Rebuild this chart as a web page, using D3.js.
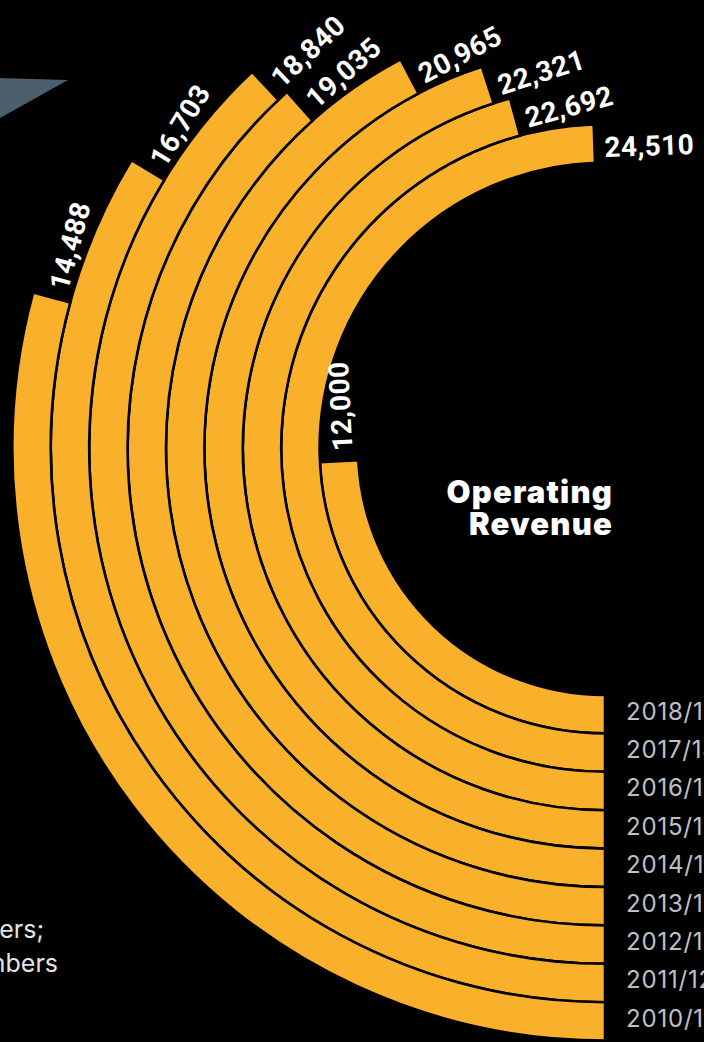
<!DOCTYPE html>
<html>
<head>
<meta charset="utf-8">
<script src="https://cdn.jsdelivr.net/npm/d3@7"></script>
<style>
  html, body { margin: 0; padding: 0; background: #000; overflow: hidden; }
  svg { display: block; }
</style>
</head>
<body>
<svg id="chart" width="704" height="1042"></svg>
<script>
// Financial years, innermost ring first
const categories = ["2018/19", "2017/18", "2016/17", "2015/16", "2014/15", "2013/14", "2012/13", "2011/12", "2010/11"];
// Operating revenue for each year
const revenue = [12000, 24510, 22692, 22321, 20965, 19035, 18840, 16703, 14488];
const titleLines = ["Operating", "Revenue"];
const noteLines = ["ers;", "numbers"];

const W = 704, H = 1042;
const cx = 605, cy = 448;
const innerR = 247, ringStep = 38.4;

const svg = d3.select("#chart");
svg.append("rect").attr("width", W).attr("height", H).attr("fill", "#000");

// decorative slate wedge, top left
svg.append("path")
  .attr("d", "M0,78 L68,80 L0,118 Z")
  .attr("fill", "#4a5e6c");

const data = categories.map((c, i) => ({ cat: c, value: revenue[i] }));

const radius = d3.scaleBand()
  .domain(categories)
  .range([innerR, innerR + ringStep * categories.length])
  .padding(0);
const bw = radius.bandwidth();

// arcs sweep clockwise from six o'clock
const angle = d3.scaleLinear()
  .domain([0, 24510])
  .range([Math.PI, Math.PI + 178 * Math.PI / 180]);

const arc = d3.arc()
  .innerRadius(d => radius(d.cat))
  .outerRadius(d => radius(d.cat) + bw)
  .startAngle(angle(0))
  .endAngle(d => angle(d.value));

const g = svg.append("g").attr("transform", `translate(${cx},${cy})`);

g.selectAll("path.ring")
  .data(data)
  .join("path")
  .attr("class", "ring")
  .attr("d", arc)
  .attr("fill", "#f9b12c")
  .attr("stroke", "#000")
  .attr("stroke-width", 2.6);

// value labels, set along the tangent just past each arc's end
g.selectAll("text.value")
  .data(data)
  .join("text")
  .attr("class", "value")
  .attr("transform", d => {
    const a = angle(d.value);
    const r = radius(d.cat) + bw / 2 - 4;
    return `translate(${r * Math.sin(a)},${-r * Math.cos(a)}) rotate(${a * 180 / Math.PI})`;
  })
  .attr("x", 10)
  .attr("dy", "0.35em")
  .attr("fill", "#fff")
  .attr("font-family", "Roboto, 'Noto Sans', sans-serif")
  .attr("font-weight", 700)
  .attr("font-size", 28)
  .attr("letter-spacing", 0.4)
  .text(d => d3.format(",")(d.value));

// year labels beside the ring ends
svg.selectAll("text.year")
  .data(data)
  .join("text")
  .attr("class", "year")
  .attr("x", cx + 21)
  .attr("y", d => cy + radius(d.cat) + bw / 2 - 3)
  .attr("dy", "0.35em")
  .attr("fill", "#bfc0c4")
  .attr("font-family", "Inter, Roboto, sans-serif")
  .attr("font-size", 24)
  .attr("letter-spacing", 0.8)
  .text(d => d.cat);

// centre title, one line per text element
svg.selectAll("text.title")
  .data(titleLines)
  .join("text")
  .attr("class", "title")
  .attr("x", 613)
  .attr("y", (d, i) => 503 + i * 32)
  .attr("text-anchor", "end")
  .attr("fill", "#fff")
  .attr("font-family", "Inter, Roboto, sans-serif")
  .attr("font-weight", 900)
  .attr("font-size", 31)
  .attr("letter-spacing", 1.2)
  .text(d => d);

// footnote lines at bottom left
svg.selectAll("text.note")
  .data(noteLines)
  .join("text")
  .attr("class", "note")
  .attr("x", (d, i) => i === 0 ? 44 : 58)
  .attr("y", (d, i) => 938 + i * 34)
  .attr("text-anchor", "end")
  .attr("fill", "#e4e4e4")
  .attr("font-family", "Inter, Roboto, sans-serif")
  .attr("font-size", 25)
  .text(d => d);
</script>
</body>
</html>
